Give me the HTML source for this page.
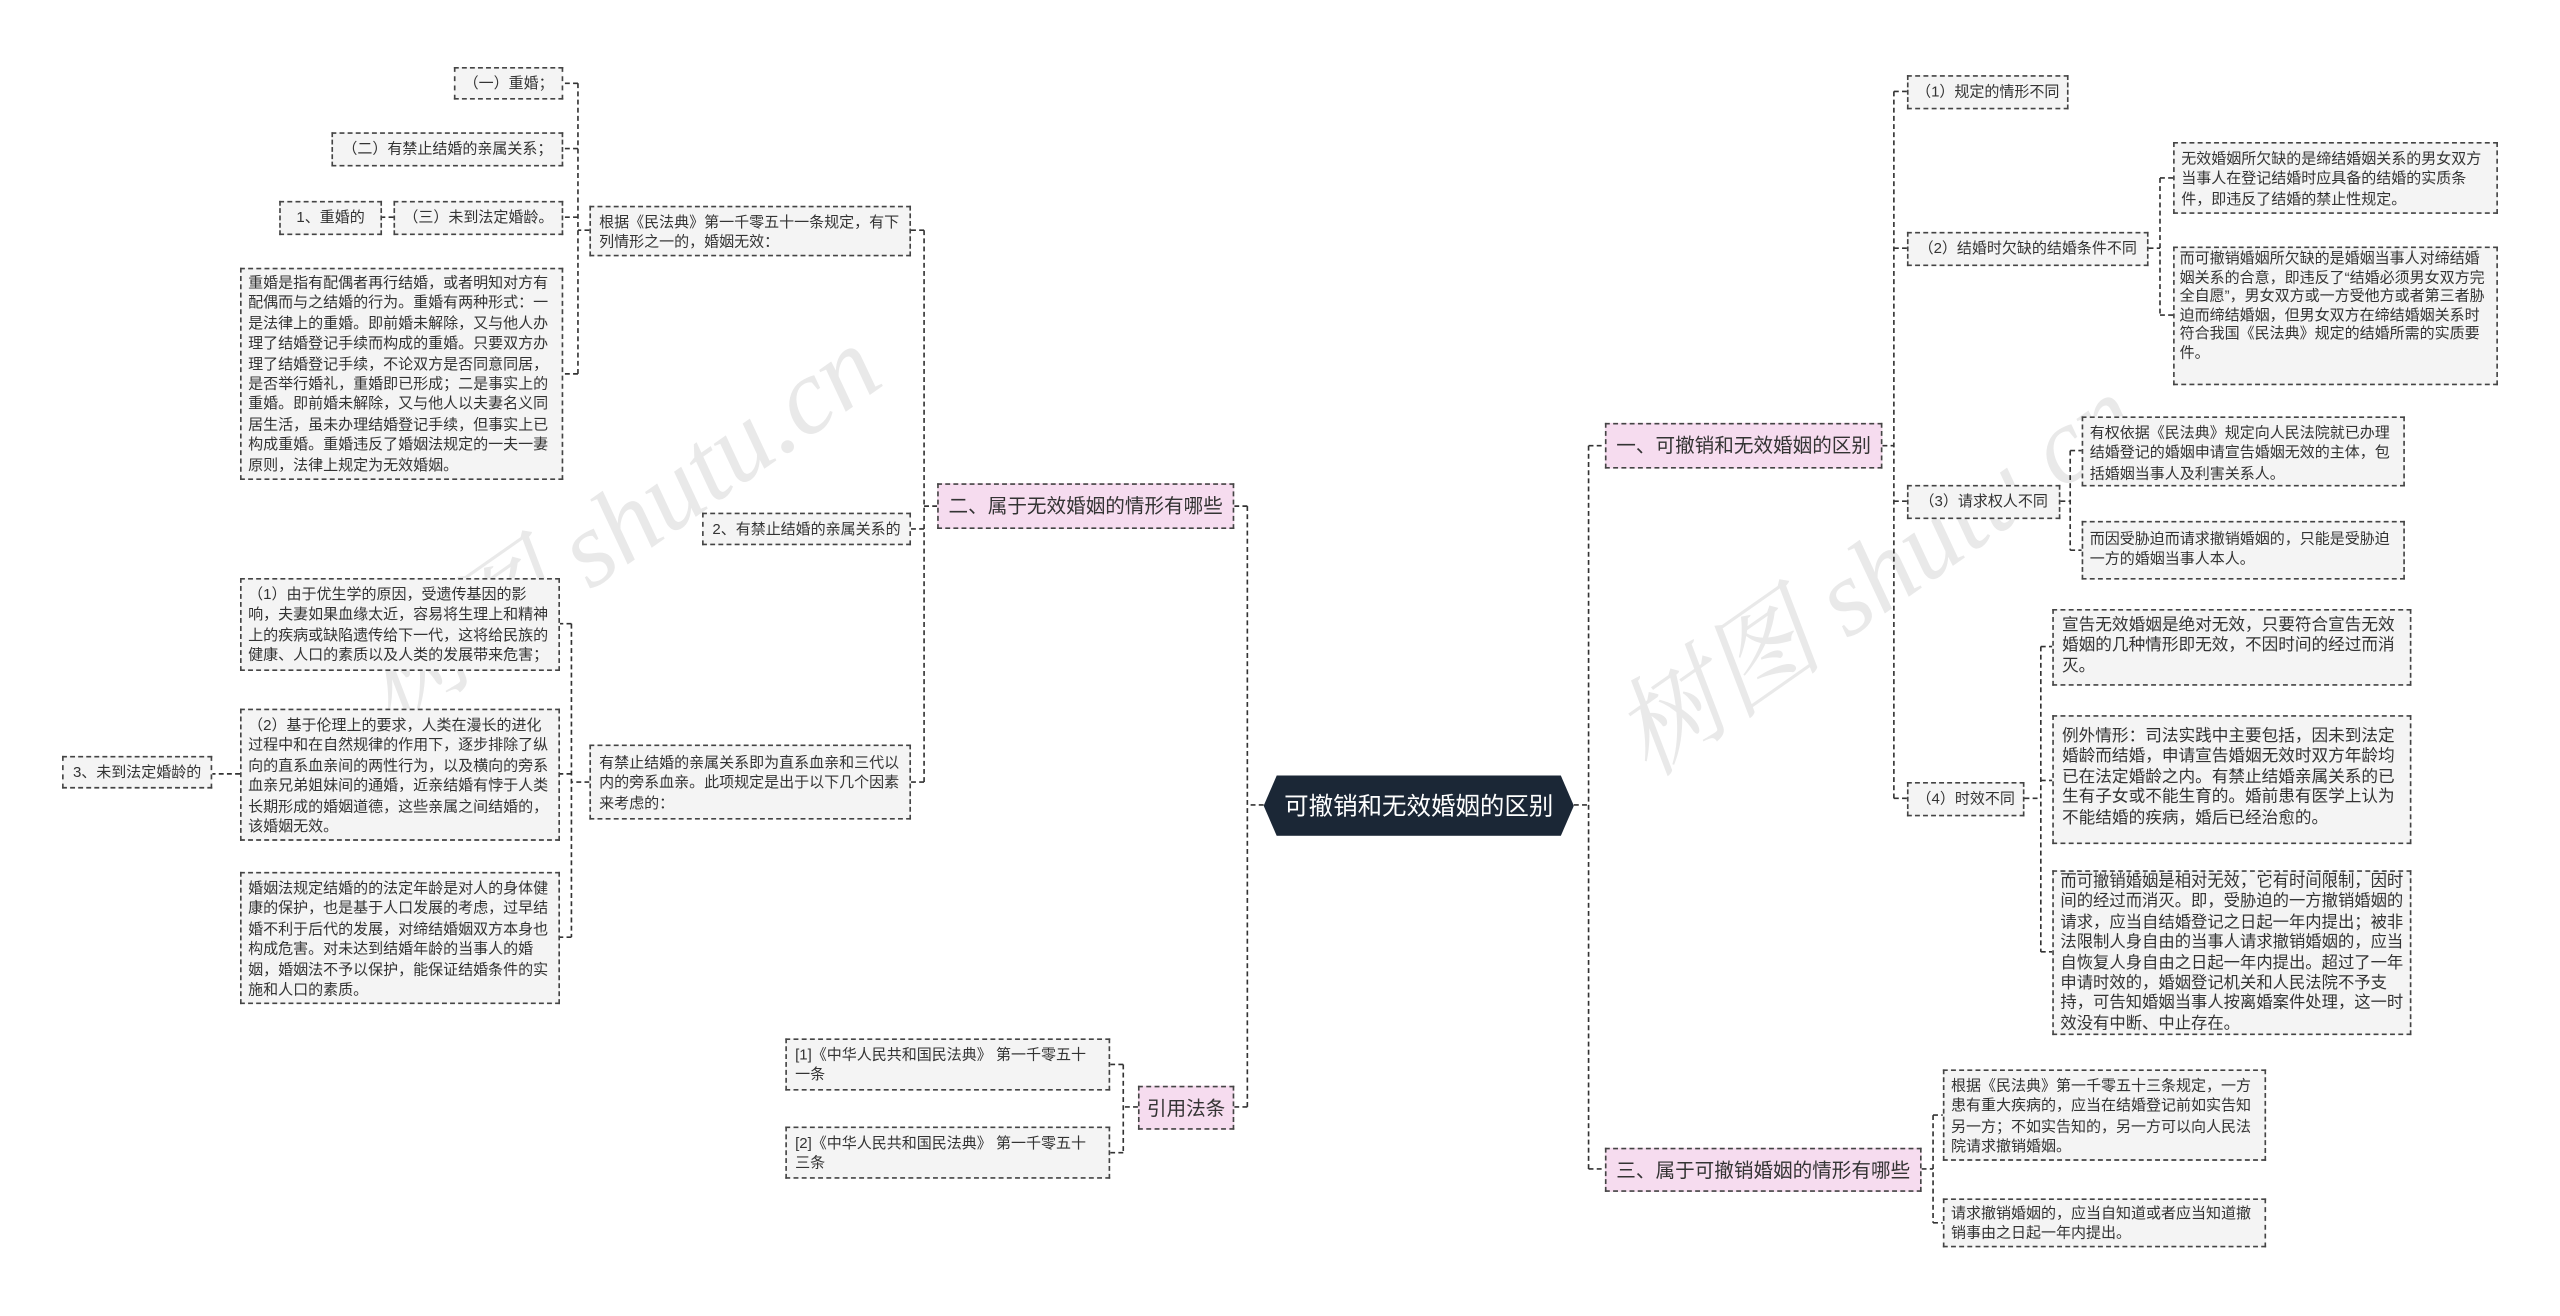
<!DOCTYPE html>
<html><head><meta charset="utf-8">
<style>
html,body{margin:0;padding:0;background:#fff;overflow:hidden;}
#wrap{position:absolute;left:0;top:0;width:1568px;height:806px;transform:scale(1.63265);transform-origin:0 0;}
.b{position:absolute;box-sizing:border-box;background:#f4f4f4;border:1px dashed #444;font-family:"Liberation Sans","Noto Sans CJK SC",sans-serif;font-size:9.2px;line-height:12.4px;letter-spacing:0;color:#333;padding:3px 4px;text-align:left;overflow:hidden;white-space:normal;}
.s{text-align:center;padding:3px 4px;white-space:nowrap;line-height:13px;}
.p{background:#f6dcef;font-size:12px;line-height:20px;text-align:center;white-space:nowrap;padding:3px 4px;}
.L{font-size:10.2px;line-height:12.4px;}
.wm{position:absolute;font-family:"Liberation Serif","Noto Serif CJK SC",serif;font-style:italic;font-size:66px;color:rgba(200,200,200,0.4);transform:rotate(-35deg);white-space:nowrap;}
</style></head><body>
<div id="wrap">
<div class="wm" style="left:190px;top:270px;">树图 shutu.cn</div>
<div class="wm" style="left:960px;top:300px;">树图 shutu.cn</div>
<svg width="1568" height="806" style="position:absolute;left:0;top:0" fill="none" stroke="#333" stroke-width="1" stroke-dasharray="3,2">
<path d="M774 493H764M764 310V678M764 310H756M764 678H756"/>
<path d="M574 310H566M566 141V479M566 141H558M566 324H558M566 479H558"/>
<path d="M361 141H354M354 51V229M354 51H345M354 91H345M354 133H345M354 229H345"/>
<path d="M241 133H234"/>
<path d="M361 479H350M350 382V574M350 382H343M350 474H343M350 574H343"/>
<path d="M147 474H130"/>
<path d="M697 678H688M688 652V706M688 652H680M688 706H680"/>
<path d="M964 493H973M973 273V716M973 273H983M973 716H983"/>
<path d="M1153 273H1160M1160 56V489M1160 56H1168M1160 152H1168M1160 307H1168M1160 489H1168"/>
<path d="M1316 152H1323M1323 109V193M1323 109H1331M1323 193H1331"/>
<path d="M1262 307H1268M1268 276V337M1268 276H1275M1268 337H1275"/>
<path d="M1240 489H1250M1250 396V583M1250 396H1257M1250 478H1257M1250 583H1257"/>
<path d="M1177 716H1184M1184 683V749M1184 683H1190M1184 749H1190"/>
</svg>
<svg viewBox="0 0 190 37" style="position:absolute;left:774px;top:475px;width:190px;height:37px">
<polygon points="8,0 182,0 190,18.5 182,37 8,37 0,18.5" fill="#1b2736"/>
<text x="95" y="24" text-anchor="middle" fill="#fff" font-family="Liberation Sans, Noto Sans CJK SC, sans-serif" font-size="15">可撤销和无效婚姻的区别</text>
</svg>

<div class="b p" style="left:574px;top:296px;width:182px;height:28px;">二、属于无效婚姻的情形有哪些</div>
<div class="b p" style="left:697px;top:665px;width:59px;height:27px;">引用法条</div>
<div class="b p" style="left:983px;top:259px;width:170px;height:28px;">一、可撤销和无效婚姻的区别</div>
<div class="b p" style="left:983px;top:703px;width:194px;height:27px;">三、属于可撤销婚姻的情形有哪些</div>

<div class="b" style="left:361px;top:126px;width:197px;height:31px;padding:3px 5px;">根据《民法典》第一千零五十一条规定，有下列情形之一的，婚姻无效：</div>
<div class="b s" style="left:430px;top:314px;width:128px;height:20px;">2、有禁止结婚的亲属关系的</div>
<div class="b" style="left:361px;top:456px;width:197px;height:46px;padding:4px 5px;">有禁止结婚的亲属关系即为直系血亲和三代以内的旁系血亲。此项规定是出于以下几个因素来考虑的：</div>

<div class="b s" style="left:278px;top:41px;width:67px;height:20px;">（一）重婚；</div>
<div class="b s" style="left:203px;top:81px;width:142px;height:21px;">（二）有禁止结婚的亲属关系；</div>
<div class="b s" style="left:241px;top:123px;width:104px;height:21px;">（三）未到法定婚龄。</div>
<div class="b s" style="left:171px;top:123px;width:63px;height:21px;">1、重婚的</div>
<div class="b" style="left:147px;top:164px;width:198px;height:130px;padding:2px 4px;">重婚是指有配偶者再行结婚，或者明知对方有配偶而与之结婚的行为。重婚有两种形式：一是法律上的重婚。即前婚未解除，又与他人办理了结婚登记手续而构成的重婚。只要双方办理了结婚登记手续，不论双方是否同意同居，是否举行婚礼，重婚即已形成；二是事实上的重婚。即前婚未解除，又与他人以夫妻名义同居生活，虽未办理结婚登记手续，但事实上已构成重婚。重婚违反了婚姻法规定的一夫一妻原则，法律上规定为无效婚姻。</div>

<div class="b" style="left:147px;top:354px;width:196px;height:57px;padding:3px 4px;">（1）由于优生学的原因，受遗传基因的影响，夫妻如果血缘太近，容易将生理上和精神上的疾病或缺陷遗传给下一代，这将给民族的健康、人口的素质以及人类的发展带来危害；</div>
<div class="b" style="left:147px;top:434px;width:196px;height:81px;padding:3px 4px;">（2）基于伦理上的要求，人类在漫长的进化过程中和在自然规律的作用下，逐步排除了纵向的直系血亲间的两性行为，以及横向的旁系血亲兄弟姐妹间的通婚，近亲结婚有悖于人类长期形成的婚姻道德，这些亲属之间结婚的，该婚姻无效。</div>
<div class="b s" style="left:38px;top:463px;width:92px;height:20px;">3、未到法定婚龄的</div>
<div class="b" style="left:147px;top:534px;width:196px;height:81px;padding:3px 4px;">婚姻法规定结婚的的法定年龄是对人的身体健康的保护，也是基于人口发展的考虑，过早结婚不利于后代的发展，对缔结婚姻双方本身也构成危害。对未达到结婚年龄的当事人的婚姻，婚姻法不予以保护，能保证结婚条件的实施和人口的素质。</div>

<div class="b" style="left:481px;top:636px;width:199px;height:32px;padding:3px 5px;">[1]《中华人民共和国民法典》 第一千零五十一条</div>
<div class="b" style="left:481px;top:690px;width:199px;height:32px;padding:3px 5px;">[2]《中华人民共和国民法典》 第一千零五十三条</div>

<div class="b s" style="left:1168px;top:46px;width:99px;height:21px;">（1）规定的情形不同</div>
<div class="b s" style="left:1168px;top:142px;width:148px;height:21px;">（2）结婚时欠缺的结婚条件不同</div>
<div class="b s" style="left:1168px;top:297px;width:94px;height:21px;">（3）请求权人不同</div>
<div class="b s" style="left:1168px;top:479px;width:72px;height:21px;">（4）时效不同</div>

<div class="b" style="left:1331px;top:87px;width:199px;height:44px;padding:3px 4px;">无效婚姻所欠缺的是缔结婚姻关系的男女双方当事人在登记结婚时应具备的结婚的实质条件，即违反了结婚的禁止性规定。</div>
<div class="b" style="left:1331px;top:151px;width:199px;height:85px;padding:1px 3px;line-height:11.6px;">而可撤销婚姻所欠缺的是婚姻当事人对缔结婚姻关系的合意，即违反了“结婚必须男女双方完全自愿”，男女双方或一方受他方或者第三者胁迫而缔结婚姻，但男女双方在缔结婚姻关系时符合我国《民法典》规定的结婚所需的实质要件。</div>
<div class="b" style="left:1275px;top:255px;width:198px;height:43px;padding:3px 4px;">有权依据《民法典》规定向人民法院就已办理结婚登记的婚姻申请宣告婚姻无效的主体，包括婚姻当事人及利害关系人。</div>
<div class="b" style="left:1275px;top:319px;width:198px;height:36px;padding:4px 4px;">而因受胁迫而请求撤销婚姻的，只能是受胁迫一方的婚姻当事人本人。</div>
<div class="b L" style="left:1257px;top:373px;width:220px;height:47px;padding:4px 5px;">宣告无效婚姻是绝对无效，只要符合宣告无效婚姻的几种情形即无效，不因时间的经过而消灭。</div>
<div class="b L" style="left:1257px;top:438px;width:220px;height:79px;padding:7px 5px;">例外情形：司法实践中主要包括，因未到法定婚龄而结婚，申请宣告婚姻无效时双方年龄均已在法定婚龄之内。有禁止结婚亲属关系的已生有子女或不能生育的。婚前患有医学上认为不能结婚的疾病，婚后已经治愈的。</div>
<div class="b L" style="left:1257px;top:533px;width:220px;height:101px;padding:1px 4px;font-size:10px;">而可撤销婚姻是相对无效，它有时间限制，因时间的经过而消灭。即，受胁迫的一方撤销婚姻的请求，应当自结婚登记之日起一年内提出；被非法限制人身自由的当事人请求撤销婚姻的，应当自恢复人身自由之日起一年内提出。超过了一年申请时效的，婚姻登记机关和人民法院不予支持，可告知婚姻当事人按离婚案件处理，这一时效没有中断、中止存在。</div>

<div class="b" style="left:1190px;top:655px;width:198px;height:56px;padding:3px 4px;">根据《民法典》第一千零五十三条规定，一方患有重大疾病的，应当在结婚登记前如实告知另一方；不如实告知的，另一方可以向人民法院请求撤销婚姻。</div>
<div class="b" style="left:1190px;top:734px;width:198px;height:30px;padding:2px 4px;">请求撤销婚姻的，应当自知道或者应当知道撤销事由之日起一年内提出。</div>
</div>
</body></html>
